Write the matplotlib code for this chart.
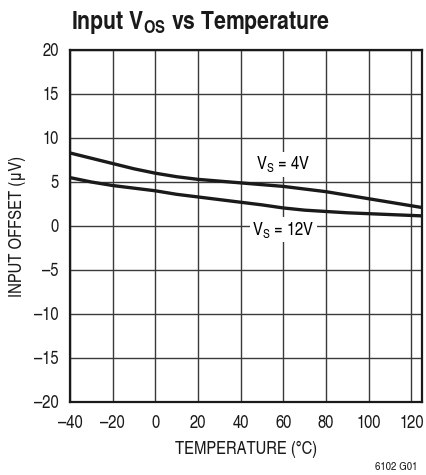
import matplotlib
matplotlib.use("Agg")
import matplotlib.pyplot as plt

FAM = ['TeX Gyre Heros Cn', 'Roboto Condensed', 'Liberation Sans', 'DejaVu Sans']
plt.rcParams['font.family'] = FAM
plt.rcParams['mathtext.fontset'] = 'custom'
plt.rcParams['mathtext.rm'] = FAM[0]
plt.rcParams['mathtext.it'] = FAM[0]
plt.rcParams['mathtext.bf'] = FAM[0] + ':bold'

temperature = [-40, -30, -20, -10, 0, 10, 20, 30, 40, 50, 60, 70, 80, 90, 100, 110, 120, 125]
vos_4v = [8.3, 7.7, 7.1, 6.5, 6.0, 5.6, 5.3, 5.1, 4.9, 4.7, 4.5, 4.2, 3.9, 3.5, 3.1, 2.7, 2.3, 2.1]
vos_12v = [5.5, 5.0, 4.6, 4.3, 4.0, 3.6, 3.3, 3.0, 2.7, 2.4, 2.05, 1.8, 1.65, 1.5, 1.4, 1.3, 1.2, 1.15]
xticks = [-40, -20, 0, 20, 40, 60, 80, 100, 120]
yticks = [-20, -15, -10, -5, 0, 5, 10, 15, 20]

fig = plt.figure(figsize=(4.27, 4.75), dpi=100)
ax = fig.add_axes([70/427, 1-402/475, 352/427, 352/475])
ax.set_xlim(-40, 125)
ax.set_ylim(-20, 20)
ax.set_xticks(xticks)
ax.set_yticks(yticks)
ax.set_xticklabels([str(t).replace('-', '\u2013') for t in xticks])
ax.set_yticklabels([str(t).replace('-', '\u2013') for t in yticks])
ax.tick_params(axis='both', length=0, labelsize=13, colors='#1a1a1a')
ax.tick_params(axis='y', pad=8)
ax.tick_params(axis='x', pad=9)
ax.grid(True, color='#3a3a3a', linewidth=1.0)
ax.set_axisbelow(True)
for s in ax.spines.values():
    s.set_linewidth(1.6)
    s.set_color('#1a1a1a')

ax.plot(temperature, vos_4v, color='#1a1a1a', linewidth=2.4, solid_capstyle='butt', zorder=3)
ax.plot(temperature, vos_12v, color='#1a1a1a', linewidth=2.4, solid_capstyle='butt', zorder=3)

bbox = dict(facecolor='white', edgecolor='none', pad=1.5)
ax.text(60, 7.0, r'V$_\mathregular{S}$ = 4V', ha='center', va='center', fontsize=13, bbox=bbox, zorder=4)
ax.text(60, -0.4, r'V$_\mathregular{S}$ = 12V', ha='center', va='center', fontsize=13, bbox=bbox, zorder=4)

ax.set_xlabel('TEMPERATURE (°C)', fontsize=13, labelpad=7, color='#1a1a1a')
ax.set_ylabel('INPUT OFFSET (μV)', fontsize=13, labelpad=6, color='#1a1a1a')

fig.text(71/427, 1-29.5/475, r'Input V$_\mathbf{OS}$ vs Temperature', fontsize=18.6, fontweight='bold', ha='left', va='baseline', color='#1a1a1a')
fig.text(417/427, 1-467/475, '6102 G01', fontsize=8.5, ha='right', va='center', color='#1a1a1a')

fig.savefig('out.png', dpi=100)
